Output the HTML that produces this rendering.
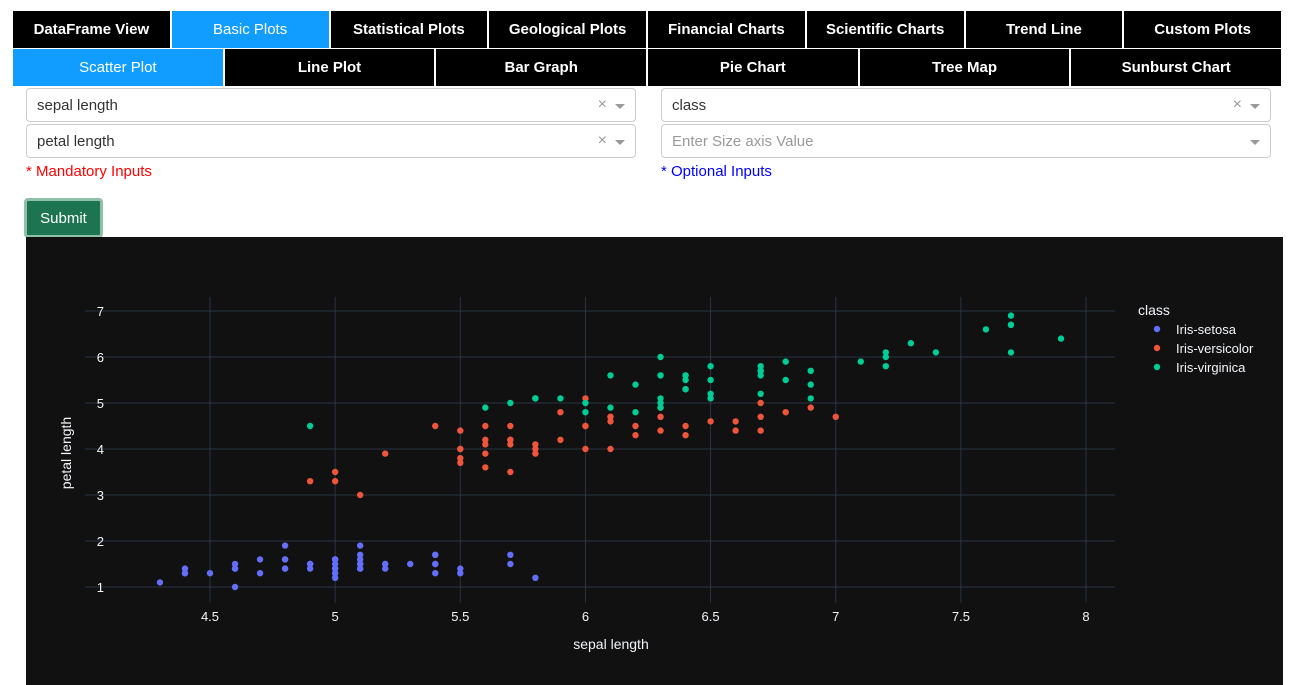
<!DOCTYPE html>
<html><head><meta charset="utf-8">
<style>
body{margin:0;width:1294px;height:685px;background:#fff;font-family:"Liberation Sans",sans-serif;position:relative;overflow:hidden}
.row{position:absolute;left:13px;width:1270px;display:flex}
.tab{flex:1;background:#000;color:#fff;font-weight:bold;font-size:15px;display:flex;align-items:center;justify-content:center;border-right:2px solid #fff;box-sizing:border-box}
.tab.active{background:#119dff;font-weight:normal}
.dd{position:absolute;height:34px;border:1px solid #ccc;border-radius:4px;box-sizing:border-box;font-size:15px;color:#333;display:flex;align-items:center;padding-left:10px}
.dd .x{position:absolute;right:28px;color:#999;font-size:16px}
.dd .arr{position:absolute;right:10px;top:15px;width:0;height:0;border-left:5px solid transparent;border-right:5px solid transparent;border-top:5px solid #999}
.note{position:absolute;top:163px;font-size:15px}
</style></head><body>
<div class="row" style="top:11px;height:37px">
<div class="tab">DataFrame View</div>
<div class="tab active">Basic Plots</div>
<div class="tab">Statistical Plots</div>
<div class="tab">Geological Plots</div>
<div class="tab">Financial Charts</div>
<div class="tab">Scientific Charts</div>
<div class="tab">Trend Line</div>
<div class="tab">Custom Plots</div>
</div>
<div class="row" style="top:49px;height:37px">
<div class="tab active">Scatter Plot</div>
<div class="tab">Line Plot</div>
<div class="tab">Bar Graph</div>
<div class="tab">Pie Chart</div>
<div class="tab">Tree Map</div>
<div class="tab">Sunburst Chart</div>
</div>
<div class="dd" style="left:26px;top:88px;width:610px">sepal length<span class="x">×</span><span class="arr"></span></div>
<div class="dd" style="left:26px;top:124px;width:610px">petal length<span class="x">×</span><span class="arr"></span></div>
<div class="dd" style="left:661px;top:88px;width:610px">class<span class="x">×</span><span class="arr"></span></div>
<div class="dd" style="left:661px;top:124px;width:610px;color:#999">Enter Size axis Value<span class="arr"></span></div>
<div class="note" style="left:26px;color:#f00">* Mandatory Inputs</div>
<div class="note" style="left:661px;color:#00f">* Optional Inputs</div>
<div style="position:absolute;left:24px;top:198px;width:79px;height:40px;background:#1c7550;border:3px solid #8fc0a8;border-radius:4px;box-sizing:border-box;color:#fff;font-size:15px;display:flex;align-items:center;justify-content:center">Submit</div>
<svg id="chart" style="position:absolute;left:26px;top:237px" width="1257" height="448">
<rect width="1257" height="448" fill="#111111"/>
<g id="grid"></g><g id="pts"></g>
<text x="585" y="412" fill="#f2f5fa" font-size="14" text-anchor="middle">sepal length</text>
<text transform="translate(45,216) rotate(-90)" fill="#f2f5fa" font-size="14" text-anchor="middle">petal length</text>
<text x="1112" y="78" fill="#f2f5fa" font-size="14">class</text>
<g id="legend"></g>
</svg>
<script>
const xTicks=[4.5,5,5.5,6,6.5,7,7.5,8];
const yTicks=[1,2,3,4,5,6,7];
const classes=["Iris-setosa","Iris-versicolor","Iris-virginica"];
const colors=["#636efa","#EF553B","#00cc96"];
const setosaX=[5.1,4.9,4.7,4.6,5.0,5.4,4.6,5.0,4.4,4.9,5.4,4.8,4.8,4.3,5.8,5.7,5.4,5.1,5.7,5.1,5.4,5.1,4.6,5.1,4.8,5.0,5.0,5.2,5.2,4.7,4.8,5.4,5.2,5.5,4.9,5.0,5.5,4.9,4.4,5.1,5.0,4.5,4.4,5.0,5.1,4.8,5.1,4.6,5.3,5.0];
const setosaY=[1.4,1.4,1.3,1.5,1.4,1.7,1.4,1.5,1.4,1.5,1.5,1.6,1.4,1.1,1.2,1.5,1.3,1.4,1.7,1.5,1.7,1.5,1.0,1.7,1.9,1.6,1.6,1.5,1.4,1.6,1.6,1.5,1.5,1.4,1.5,1.2,1.3,1.5,1.3,1.5,1.3,1.3,1.3,1.6,1.9,1.4,1.6,1.4,1.5,1.4];
const versiX=[7.0,6.4,6.9,5.5,6.5,5.7,6.3,4.9,6.6,5.2,5.0,5.9,6.0,6.1,5.6,6.7,5.6,5.8,6.2,5.6,5.9,6.1,6.3,6.1,6.4,6.6,6.8,6.7,6.0,5.7,5.5,5.5,5.8,6.0,5.4,6.0,6.7,6.3,5.6,5.5,5.5,6.1,5.8,5.0,5.6,5.7,5.7,6.2,5.1,5.7];
const versiY=[4.7,4.5,4.9,4.0,4.6,4.5,4.7,3.3,4.6,3.9,3.5,4.2,4.0,4.7,3.6,4.4,4.5,4.1,4.5,3.9,4.8,4.0,4.9,4.7,4.3,4.4,4.8,5.0,4.5,3.5,3.8,3.7,3.9,5.1,4.5,4.5,4.7,4.4,4.1,4.0,4.4,4.6,4.0,3.3,4.2,4.2,4.2,4.3,3.0,4.1];
const virgX=[6.3,5.8,7.1,6.3,6.5,7.6,4.9,7.3,6.7,7.2,6.5,6.4,6.8,5.7,5.8,6.4,6.5,7.7,7.7,6.0,6.9,5.6,7.7,6.3,6.7,7.2,6.2,6.1,6.4,7.2,7.4,7.9,6.4,6.3,6.1,7.7,6.3,6.4,6.0,6.9,6.7,6.9,5.8,6.8,6.7,6.7,6.3,6.5,6.2,5.9];
const virgY=[6.0,5.1,5.9,5.6,5.8,6.6,4.5,6.3,5.8,6.1,5.1,5.3,5.5,5.0,5.1,5.3,5.5,6.7,6.9,5.0,5.7,4.9,6.7,4.9,5.7,6.0,4.8,4.9,5.6,5.8,6.1,6.4,5.6,5.1,5.6,6.1,5.6,5.5,4.8,5.4,5.6,5.1,5.1,5.9,5.7,5.2,5.0,5.2,5.4,5.1];
const NS="http://www.w3.org/2000/svg";
const xs=v=>184+(v-4.5)*250.3, ys=v=>350-(v-1)*46;
function mk(t,a,p){const e=document.createElementNS(NS,t);for(const k in a)e.setAttribute(k,a[k]);p.appendChild(e);return e;}
const g=document.getElementById('grid');
xTicks.forEach(t=>{const l=mk('line',{x1:xs(t),x2:xs(t),y1:60,y2:366,stroke:'#283442'},g);


const tx=mk('text',{x:xs(t),y:384,fill:'#f2f5fa','font-size':13,'text-anchor':'middle'},g);tx.textContent=t;

});
yTicks.forEach(t=>{const l=mk('line',{x1:59,x2:1089,y1:ys(t),y2:ys(t),stroke:'#283442'},g);


const tx=mk('text',{x:78,y:ys(t)+5,fill:'#f2f5fa','font-size':13,'text-anchor':'end'},g);tx.textContent=t;

});
const series=[[setosaX,setosaY],[versiX,versiY],[virgX,virgY]];
const p=document.getElementById('pts'),lg=document.getElementById('legend');
series.forEach((s,i)=>{s[0].forEach((x,j)=>{const c=mk('circle',{cx:xs(x),cy:ys(s[1][j]),r:3.2,fill:colors[i]},p);

});
const c=mk('circle',{cx:1131,cy:92+i*19,r:3.2,fill:colors[i]},lg);


const t=mk('text',{x:1150,y:97+i*19,fill:'#f2f5fa','font-size':13},lg);t.textContent=classes[i];

});
</script>
</body></html>
